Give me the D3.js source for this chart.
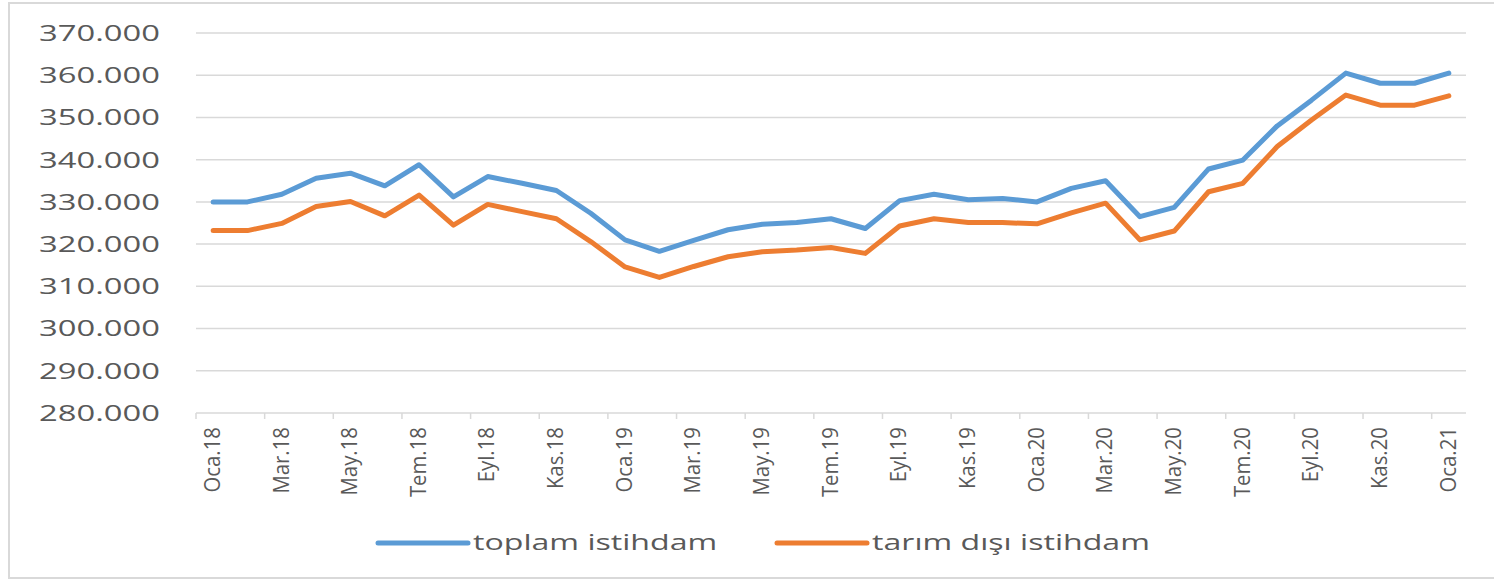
<!DOCTYPE html>
<html>
<head>
<meta charset="utf-8">
<script src="https://cdn.jsdelivr.net/npm/d3@7"></script>
<style>
  body { margin: 0; background: #fff; }
  svg { display: block; }
  text { font-family: "Open Sans", sans-serif; fill: #595959; }
</style>
</head>
<body>
<svg id="chart"></svg>
<script>
// months (Turkish short names) and the years shown
const months = ["Oca", "Şub", "Mar", "Nis", "May", "Haz", "Tem", "Ağu", "Eyl", "Eki", "Kas", "Ara"];
const years = ["18", "19", "20", "21"];

// categories Oca.18 .. Oca.21
const categories = [];
years.forEach(function (yy) {
    months.forEach(function (m) {
        if (categories.length < 37) categories.push(m + "." + yy);
    });
});

// toplam istihdam (thousands)
const toplam = [
    330.0, 330.0, 331.8, 335.6, 336.8, 333.8, 338.8, 331.2, 336.0, 334.4, 332.7, 327.3,
    321.0, 318.3, 320.9, 323.4, 324.7, 325.1, 326.0, 323.7, 330.3, 331.8, 330.5, 330.8,
    330.0, 333.2, 335.0, 326.5, 328.7, 337.8, 339.9, 348.0, 354.1, 360.5, 358.1, 358.1,
    360.5
];

// tarım dışı istihdam (thousands)
const tarimDisi = [
    323.2, 323.2, 324.9, 328.9, 330.1, 326.7, 331.6, 324.5, 329.4, 327.7, 326.0, 320.6,
    314.6, 312.1, 314.7, 317.0, 318.2, 318.6, 319.2, 317.8, 324.3, 326.0, 325.1, 325.1,
    324.8, 327.4, 329.7, 321.0, 323.1, 332.4, 334.4, 343.1, 349.4, 355.3, 352.9, 352.9,
    355.1
];

const yTicks = [280000, 290000, 300000, 310000, 320000, 330000, 340000, 350000, 360000, 370000];

const seriesNames = ["toplam istihdam", "tarım dışı istihdam"];
const seriesColors = ["#5B9BD5", "#ED7D31"];

const width = 1494;
const height = 580;

const svg = d3.select("#chart")
    .attr("width", width)
    .attr("height", height);

// turkish number format: 330.000
const trFormat = d3.formatLocale({ decimal: ",", thousands: ".", grouping: [3], currency: ["", "₺"] }).format(",.0f");

const x = d3.scaleBand()
    .domain(categories)
    .range([196, 1466])
    .padding(0);

const y = d3.scaleLinear()
    .domain([280000, 370000])
    .range([413, 33]);

// outer border
svg.append("rect")
    .attr("x", 9)
    .attr("y", 3)
    .attr("width", 1500)
    .attr("height", 575)
    .attr("fill", "none")
    .attr("stroke", "#D9D9D9")
    .attr("stroke-width", 2);

// gridlines
svg.selectAll(".grid")
    .data(yTicks.slice(1))
    .enter()
    .append("line")
    .attr("class", "grid")
    .attr("x1", 196)
    .attr("x2", 1466)
    .attr("y1", function (d) { return y(d); })
    .attr("y2", function (d) { return y(d); })
    .attr("stroke", "#D9D9D9")
    .attr("stroke-width", 1.5);

// y labels (stretched wide like the original)
svg.selectAll(".ylab")
    .data(yTicks)
    .enter()
    .append("text")
    .attr("class", "ylab")
    .attr("text-anchor", "end")
    .attr("dy", "0.36em")
    .attr("font-size", 22)
    .attr("transform", function (d) { return "translate(160," + y(d) + ") scale(1.49,1)"; })
    .text(function (d) { return trFormat(d); });

// x axis line
svg.append("line")
    .attr("x1", 196)
    .attr("x2", 1466)
    .attr("y1", y(280000))
    .attr("y2", y(280000))
    .attr("stroke", "#D9D9D9")
    .attr("stroke-width", 1.5);

const shown = categories.filter(function (d, i) { return i % 2 === 0; });

// tick marks between categories
svg.selectAll(".xtick")
    .data(shown)
    .enter()
    .append("line")
    .attr("class", "xtick")
    .attr("x1", function (d) { return x(d); })
    .attr("x2", function (d) { return x(d); })
    .attr("y1", y(280000))
    .attr("y2", y(280000) + 6)
    .attr("stroke", "#D9D9D9")
    .attr("stroke-width", 1.5);

// rotated x labels
svg.selectAll(".xlab")
    .data(shown)
    .enter()
    .append("text")
    .attr("class", "xlab")
    .attr("text-anchor", "end")
    .attr("dy", "0.32em")
    .attr("font-size", 21)
    .attr("transform", function (d) {
        return "translate(" + (x(d) + x.bandwidth() / 2) + ",427) rotate(-90) scale(0.97,1)";
    })
    .text(function (d) { return d; });

// lines
const line = d3.line()
    .x(function (d, i) { return x(categories[i]) + x.bandwidth() / 2; })
    .y(function (d) { return y(d * 1000); });

[toplam, tarimDisi].forEach(function (values, k) {
    svg.append("path")
        .datum(values)
        .attr("d", line)
        .attr("fill", "none")
        .attr("stroke", seriesColors[k])
        .attr("stroke-width", 5)
        .attr("stroke-linejoin", "round")
        .attr("stroke-linecap", "round");
});

// legend
const legendX = [378, 777];
seriesNames.forEach(function (name, k) {
    svg.append("line")
        .attr("x1", legendX[k])
        .attr("x2", legendX[k] + 90)
        .attr("y1", 543)
        .attr("y2", 543)
        .attr("stroke", seriesColors[k])
        .attr("stroke-width", 5)
        .attr("stroke-linecap", "round");
    svg.append("text")
        .attr("font-size", 22)
        .attr("transform", "translate(" + (legendX[k] + 95) + ",550) scale(1.46,1)")
        .text(name);
});
</script>
</body>
</html>
